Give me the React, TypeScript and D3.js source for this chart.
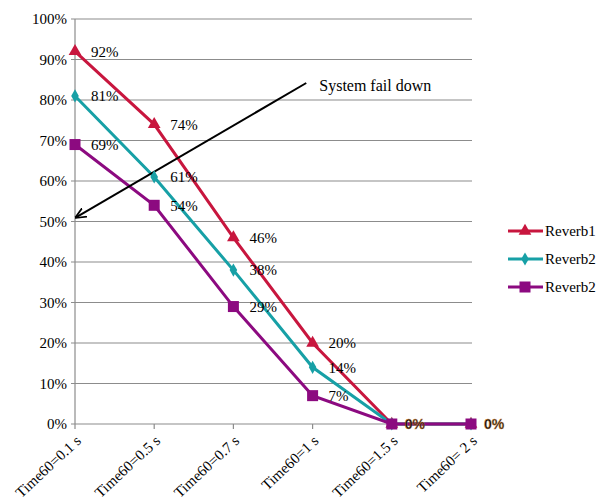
import React from "react";
import * as d3 from "d3";

const categories = ["Time60=0.1 s", "Time60=0.5 s", "Time60=0.7 s", "Time60=1 s", "Time60=1.5 s", "Time60= 2 s"];
const reverb1 = [92, 74, 46, 20, 0, 0];
const reverb2a = [81, 61, 38, 14, 0, 0];
const reverb2b = [69, 54, 29, 7, 0, 0];
const seriesNames = ["Reverb1", "Reverb2", "Reverb2"];
const yTicks = [0, 10, 20, 30, 40, 50, 60, 70, 80, 90, 100];
const annotationText = "System fail down";
const annotationStart = { cat: 2.92, value: 84.2 };
const annotationEnd = { cat: 0, value: 51 };

const colors = ["#C8163E", "#17A0A6", "#8C0A80"];
const shapes = ["triangle", "diamond", "square"];

const W = 608, H = 501;
const left = 75, right = 471, top = 19, bottom = 424;

const serif = { fontFamily: '"Liberation Serif", "DejaVu Serif", serif' };
const sans = { fontFamily: '"Liberation Sans", Arial, sans-serif' };

function Marker({ shape, x, y, color }: { shape: string; x: number; y: number; color: string }) {
  if (shape === "triangle") {
    const p = d3.symbol(d3.symbolTriangle, 70)();
    return <path d={p || ""} transform={`translate(${x},${y})`} fill={color} />;
  }
  if (shape === "diamond") {
    const p = d3.symbol(d3.symbolDiamond, 50)();
    return <path d={p || ""} transform={`translate(${x},${y})`} fill={color} />;
  }
  return <rect x={x - 5.5} y={y - 5.5} width={11} height={11} fill={color} />;
}

export default function App() {
  const x = d3.scalePoint<string>().domain(categories).range([left, right]);
  const y = d3.scaleLinear().domain([0, 100]).range([bottom, top]);
  const all = [reverb1, reverb2a, reverb2b];
  const line = d3
    .line<number>()
    .x((_, i) => x(categories[i]) as number)
    .y((d) => y(d));
  const step = x.step();
  const ax = (c: number) => left + c * step;

  return (
    <svg width={W} height={H} style={{ position: "absolute", left: 0, top: 0, background: "#fff" }}>
      {yTicks.map((t) => (
        <g key={t}>
          <line x1={left - 4} x2={right + 1} y1={y(t)} y2={y(t)} stroke="#8c8c8c" strokeWidth={1.2} />
          <text x={left - 8} y={y(t)} dy="0.35em" textAnchor="end" style={serif} fontSize={15} fill="#000">
            {t}%
          </text>
        </g>
      ))}
      <line x1={left} x2={left} y1={top} y2={bottom} stroke="#8c8c8c" strokeWidth={1.2} />
      {categories.map((c) => (
        <g key={c}>
          <line x1={x(c)} x2={x(c)} y1={bottom} y2={bottom + 5} stroke="#8c8c8c" strokeWidth={1.2} />
          <text
            transform={`translate(${(x(c) as number) + 7},${bottom + 18}) rotate(-43)`}
            textAnchor="end"
            style={serif}
            fontSize={15}
            fill="#000"
          >
            {c}
          </text>
        </g>
      ))}
      {all.map((s, i) => (
        <path key={i} d={line(s) || ""} fill="none" stroke={colors[i]} strokeWidth={3} />
      ))}
      <defs>
        <marker id="arrow" viewBox="0 0 10 10" refX="9" refY="5" markerWidth="11" markerHeight="11" orient="auto-start-reverse" markerUnits="userSpaceOnUse">
          <path d="M0,0.5 L10,5 L0,9.5" fill="none" stroke="#000" strokeWidth={1.6} />
        </marker>
      </defs>
      <line
        x1={ax(annotationStart.cat)}
        y1={y(annotationStart.value)}
        x2={ax(annotationEnd.cat) + 1}
        y2={y(annotationEnd.value)}
        stroke="#000"
        strokeWidth={2}
        markerEnd="url(#arrow)"
      />
      <text x={ax(annotationStart.cat) + 13} y={y(annotationStart.value) + 8} style={serif} fontSize={16} fill="#000">
        {annotationText}
      </text>
      {all.map((s, i) =>
        s.map((v, j) => (
          <Marker key={`${i}-${j}`} shape={shapes[i]} x={x(categories[j]) as number} y={y(v)} color={colors[i]} />
        ))
      )}
      {all.map((s, i) =>
        s.map((v, j) =>
          v === 0 ? (
            i === 2 ? (
              <text
                key={`l${i}-${j}`}
                x={(x(categories[j]) as number) + 13}
                y={y(v)}
                dy="0.35em"
                style={sans}
                fontWeight="bold"
                fontSize={14}
                fill="#111"
                stroke="#d98a3a"
                strokeWidth={0.4}
              >
                {v}%
              </text>
            ) : null
          ) : (
            <text
              key={`l${i}-${j}`}
              x={(x(categories[j]) as number) + 16}
              y={y(v)}
              dy="0.35em"
              style={serif}
              fontSize={15}
              fill="#000"
            >
              {v}%
            </text>
          )
        )
      )}
      {seriesNames.map((n, i) => {
        const ly = 231 + i * 28;
        return (
          <g key={i}>
            <line x1={508} x2={543} y1={ly} y2={ly} stroke={colors[i]} strokeWidth={3} />
            <Marker shape={shapes[i]} x={525} y={ly} color={colors[i]} />
            <text x={545} y={ly} dy="0.35em" style={serif} fontSize={15} fill="#000">
              {n}
            </text>
          </g>
        );
      })}
    </svg>
  );
}
